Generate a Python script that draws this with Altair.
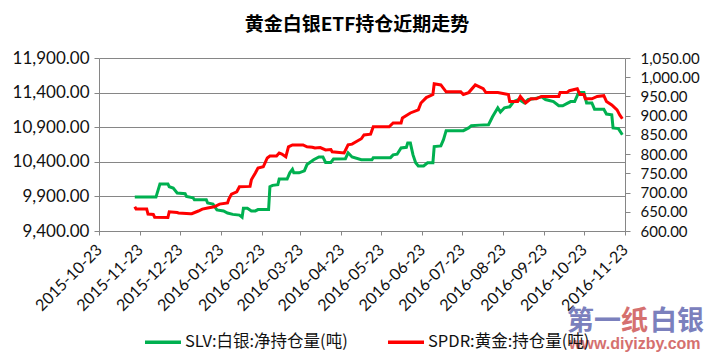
import altair as alt
import pandas as pd

TITLE = "黄金白银ETF持仓近期走势"
SLV_NAME = "SLV:白银:净持仓量(吨)"
SPDR_NAME = "SPDR:黄金:持仓量(吨)"

slv_dates = [
    "2015-11-19", "2015-12-05", "2015-12-08", "2015-12-14", "2015-12-15", "2015-12-18",
    "2015-12-21", "2015-12-27", "2015-12-28", "2016-01-02", "2016-01-03", "2016-01-12",
    "2016-01-13", "2016-01-17", "2016-01-20", "2016-01-25", "2016-01-28", "2016-02-01",
    "2016-02-06", "2016-02-08", "2016-02-09", "2016-02-12", "2016-02-15", "2016-02-18",
    "2016-02-20", "2016-02-28", "2016-02-29", "2016-03-02", "2016-03-06", "2016-03-07",
    "2016-03-13", "2016-03-15", "2016-03-17", "2016-03-18", "2016-03-22", "2016-03-26",
    "2016-03-28", "2016-04-02", "2016-04-06", "2016-04-09", "2016-04-11", "2016-04-15",
    "2016-04-17", "2016-04-26", "2016-04-28", "2016-05-01", "2016-05-08", "2016-05-16",
    "2016-05-17", "2016-05-30", "2016-06-01", "2016-06-04", "2016-06-07", "2016-06-11",
    "2016-06-12", "2016-06-14", "2016-06-16", "2016-06-18", "2016-06-20", "2016-06-24",
    "2016-06-27", "2016-07-01", "2016-07-02", "2016-07-07", "2016-07-09", "2016-07-11",
    "2016-07-24", "2016-07-28", "2016-07-30", "2016-08-05", "2016-08-12", "2016-08-15",
    "2016-08-19", "2016-08-21", "2016-08-24", "2016-08-28", "2016-08-31", "2016-09-04",
    "2016-09-08", "2016-09-11", "2016-09-15", "2016-09-21", "2016-09-24", "2016-09-30",
    "2016-10-04", "2016-10-07", "2016-10-10", "2016-10-13", "2016-10-16", "2016-10-19",
    "2016-10-23", "2016-10-25", "2016-10-29", "2016-10-31", "2016-11-07", "2016-11-09",
    "2016-11-13", "2016-11-14", "2016-11-18", "2016-11-21",
]
slv_values = [
    9890, 9890, 10080, 10080, 10040, 10020,
    9950, 9940, 9900, 9880, 9850, 9850,
    9805, 9790, 9705, 9690, 9660, 9640,
    9630, 9600, 9730, 9730, 9690, 9690,
    9710, 9710, 10040, 10060, 10070, 10150,
    10150, 10240, 10290, 10240, 10240, 10270,
    10360, 10430, 10470, 10470, 10390, 10390,
    10440, 10445, 10530, 10470, 10430, 10430,
    10460, 10460, 10500, 10510, 10600, 10610,
    10670, 10670, 10500, 10385, 10340, 10340,
    10385, 10385, 10620, 10630, 10720, 10850,
    10850, 10890, 10920, 10930, 10935, 11050,
    11180, 11120, 11180, 11195, 11270, 11300,
    11250, 11300, 11310, 11340, 11300, 11270,
    11210, 11210, 11240, 11270, 11270, 11400,
    11400, 11250, 11250, 11160, 11160, 11090,
    11080, 10890, 10880, 10790,
]

spdr_dates = [
    "2015-11-19", "2015-11-20", "2015-11-28", "2015-11-29", "2015-12-03", "2015-12-04",
    "2015-12-14", "2015-12-15", "2015-12-21", "2015-12-22", "2015-12-31", "2016-01-01",
    "2016-01-06", "2016-01-09", "2016-01-13", "2016-01-18", "2016-01-22", "2016-01-28",
    "2016-01-29", "2016-01-31", "2016-02-04", "2016-02-06", "2016-02-14", "2016-02-15",
    "2016-02-18", "2016-02-20", "2016-02-24", "2016-02-27", "2016-02-29", "2016-03-05",
    "2016-03-07", "2016-03-09", "2016-03-12", "2016-03-14", "2016-03-17", "2016-03-25",
    "2016-03-28", "2016-04-01", "2016-04-03", "2016-04-07", "2016-04-11", "2016-04-15",
    "2016-04-16", "2016-04-25", "2016-04-28", "2016-05-01", "2016-05-04", "2016-05-08",
    "2016-05-10", "2016-05-15", "2016-05-17", "2016-05-29", "2016-06-01", "2016-06-07",
    "2016-06-08", "2016-06-14", "2016-06-20", "2016-06-22", "2016-06-26", "2016-07-01",
    "2016-07-02", "2016-07-07", "2016-07-11", "2016-07-22", "2016-07-24", "2016-07-28",
    "2016-08-02", "2016-08-08", "2016-08-10", "2016-08-19", "2016-08-27", "2016-08-28",
    "2016-09-03", "2016-09-05", "2016-09-09", "2016-09-13", "2016-09-17", "2016-09-21",
    "2016-10-04", "2016-10-05", "2016-10-10", "2016-10-12", "2016-10-18", "2016-10-20",
    "2016-10-23", "2016-10-24", "2016-10-29", "2016-11-02", "2016-11-07", "2016-11-09",
    "2016-11-13", "2016-11-17", "2016-11-19", "2016-11-21",
]
spdr_values = [
    663, 657, 657, 644, 643, 636,
    635, 650, 648, 647, 645, 645,
    652, 657, 660, 663, 670, 673,
    683, 696, 702, 715, 716, 733,
    751, 764, 767, 790, 795, 795,
    803, 800, 793, 819, 824, 824,
    819, 818, 816, 817, 811, 812,
    806, 803, 824, 826, 832, 840,
    850, 852, 871, 871, 881, 881,
    894, 907, 915, 933, 947, 955,
    983, 980, 962, 962, 955, 960,
    980, 970, 960, 960, 955, 937,
    937, 950, 933, 944, 944, 950,
    950, 960, 960, 965, 970, 955,
    955, 944, 944, 950, 952, 937,
    928, 915, 902, 892,
]

x_ticks = [
    (2015, 10), (2015, 11), (2015, 12), (2016, 1), (2016, 2), (2016, 3), (2016, 4),
    (2016, 5), (2016, 6), (2016, 7), (2016, 8), (2016, 9), (2016, 10), (2016, 11),
]
left_ticks = [9400, 9900, 10400, 10900, 11400, 11900]
right_ticks = [600, 650, 700, 750, 800, 850, 900, 950, 1000, 1050]

wm_parts = ["第一", "纸", "白银"]
wm_url = "www.diyizby.com"

slv_df = pd.DataFrame({"date": slv_dates, "value": slv_values, "series": SLV_NAME})
spdr_df = pd.DataFrame({"date": spdr_dates, "value": spdr_values, "series": SPDR_NAME})

tick_dt = [alt.DateTime(year=y, month=m, date=23) for y, m in x_ticks]

AXIS_COLOR = "#868686"
LABEL_FONT = "Lato"

x_enc = alt.X(
    "date:T",
    scale=alt.Scale(domain=[tick_dt[0], tick_dt[-1]]),
    axis=alt.Axis(
        title=None, values=tick_dt, format="%Y-%m-%d", labelAngle=-45,
        labelAlign="right", labelBaseline="middle", labelPadding=12,
        labelFontSize=16, labelFont=LABEL_FONT, labelColor="#111",
        grid=False, tickSize=4, tickColor=AXIS_COLOR, domainColor=AXIS_COLOR,
        labelOverlap=False, labelFlush=False,
    ),
)

color_enc = alt.Color(
    "series:N",
    scale=alt.Scale(domain=[SLV_NAME, SPDR_NAME], range=["#00B050", "#FF0000"]),
    legend=alt.Legend(
        title=None, orient="none", direction="horizontal", legendX=44, legendY=264,
        symbolType="stroke", symbolStrokeWidth=3.5, symbolSize=1296,
        labelFont="Noto Sans CJK SC", labelFontSize=16.5, labelColor="#111",
        labelLimit=400, labelOffset=2, columnPadding=33, padding=0,
    ),
)

green = alt.Chart(slv_df).mark_line(strokeWidth=3, clip=True).encode(
    x=x_enc,
    y=alt.Y(
        "value:Q",
        scale=alt.Scale(domain=[9400, 11900], nice=False, zero=False),
        axis=alt.Axis(
            title=None, orient="left", values=left_ticks, format=",.2f",
            labelFontSize=17, labelFont=LABEL_FONT, labelColor="#111",
            grid=True, gridColor=AXIS_COLOR, gridWidth=1, tickSize=5,
            tickColor=AXIS_COLOR, domainColor=AXIS_COLOR, labelPadding=5,
        ),
    ),
    color=color_enc,
)

red = alt.Chart(spdr_df).mark_line(strokeWidth=3, clip=True).encode(
    x=x_enc,
    y=alt.Y(
        "value:Q",
        scale=alt.Scale(domain=[600, 1050], nice=False, zero=False),
        axis=alt.Axis(
            title=None, orient="right", values=right_ticks, format=",.2f",
            labelFontSize=15, labelFont=LABEL_FONT, labelColor="#111",
            grid=False, tickSize=5, tickColor=AXIS_COLOR, domainColor=AXIS_COLOR,
            labelPadding=10,
        ),
    ),
    color=color_enc,
)

wm_df1 = pd.DataFrame({"t": [wm_parts[0]]})
wm_df2 = pd.DataFrame({"t": [wm_parts[1]]})
wm_df3 = pd.DataFrame({"t": [wm_parts[2]]})
url_df = pd.DataFrame({"t": [wm_url]})

wm_font = "Noto Sans CJK SC"
wm1 = alt.Chart(wm_df1).mark_text(
    font=wm_font, fontSize=27, fontWeight="bold", color="#7b80bd", align="left", baseline="middle"
).encode(x=alt.value(468), y=alt.value(264), text="t:N")
wm2 = alt.Chart(wm_df2).mark_text(
    font=wm_font, fontSize=27, fontWeight="bold", color="#d5706f", align="left", baseline="middle"
).encode(x=alt.value(522), y=alt.value(264), text="t:N")
wm3 = alt.Chart(wm_df3).mark_text(
    font=wm_font, fontSize=27, fontWeight="bold", color="#7b80bd", align="left", baseline="middle"
).encode(x=alt.value(551), y=alt.value(264), text="t:N")
url = alt.Chart(url_df).mark_text(
    font="Liberation Sans", fontSize=16, fontWeight="bold", color="#d5706f", align="left", baseline="middle"
).encode(x=alt.value(470), y=alt.value(286), text="t:N")

chart = alt.layer(green, red, wm1, wm2, wm3, url).resolve_scale(
    y="independent"
).properties(
    width=526,
    height=173,
    title=alt.TitleParams(
        TITLE, font="Noto Sans CJK SC", fontSize=19, fontWeight="bold", color="#000",
        anchor="middle", dx=-5, offset=14,
    ),
    autosize=alt.AutoSizeParams(type="none"),
    padding={"left": 91, "top": 50, "right": 84, "bottom": 130},
).configure_view(stroke=None)

chart.save("out.html", embed_options={"renderer": "svg", "actions": False})
